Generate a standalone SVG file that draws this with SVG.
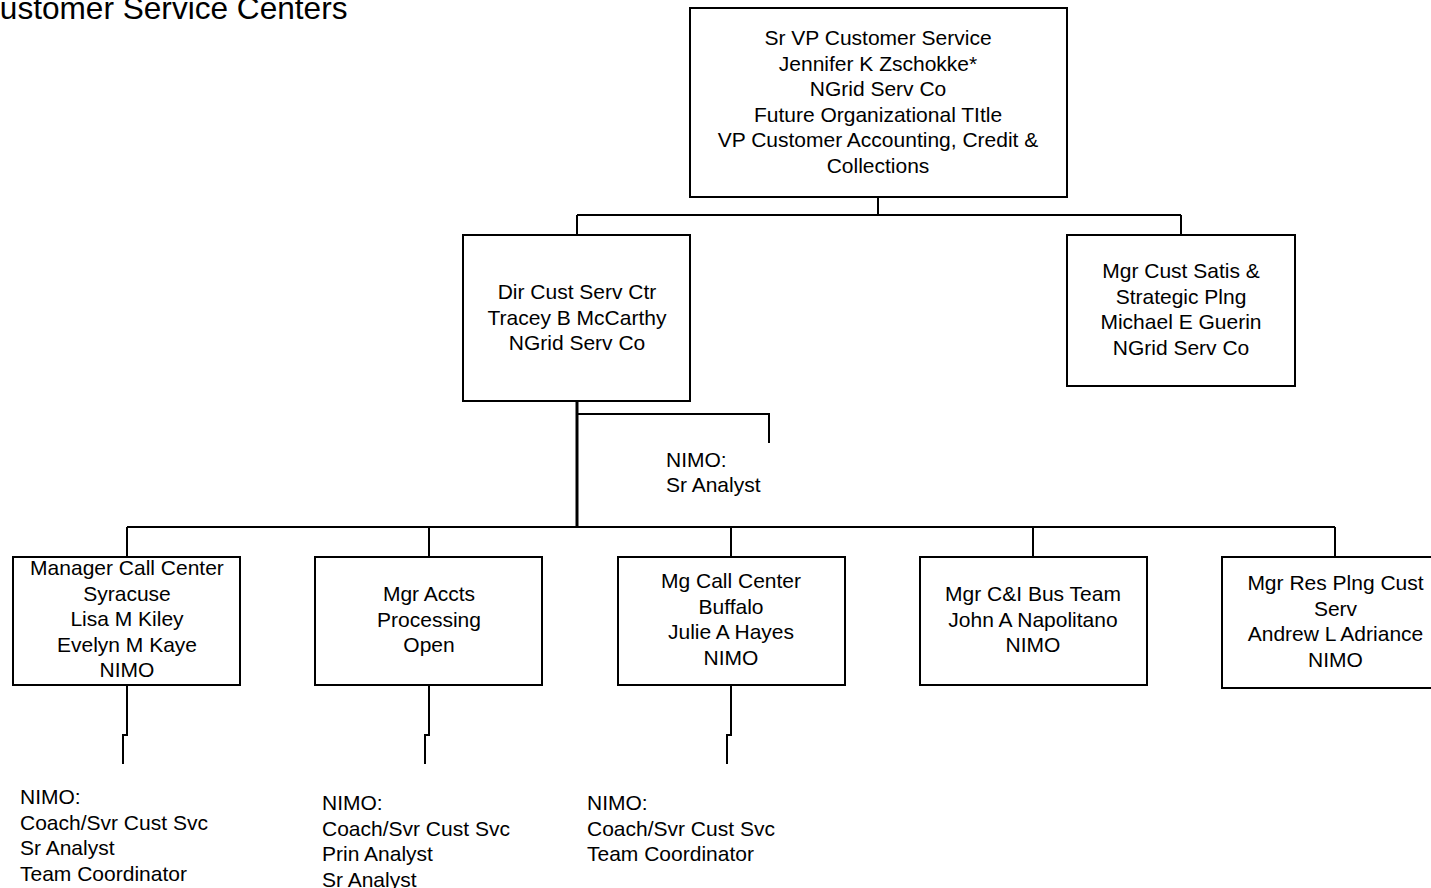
<svg xmlns="http://www.w3.org/2000/svg" width="1431" height="888" viewBox="0 0 1431 888">
<style>
.box{fill:#fff;stroke:#000;stroke-width:2}
.t{font-family:"Liberation Sans",Arial,sans-serif;font-size:21px;fill:#000;text-anchor:middle}
.l{font-family:"Liberation Sans",Arial,sans-serif;font-size:21px;fill:#000}
.c{fill:none;stroke:#000;stroke-width:2}
</style>
<rect width="1431" height="888" fill="#fff"/>
<text id="title" x="-23" y="19" style="font-family:'Liberation Sans',Arial,sans-serif;font-size:31.6px">Customer Service Centers</text>
<g id="connectors">
<path class="c" d="M878 197V215M577 215H1181M577 215V235M1181 215V235"/>
<path class="c" style="stroke-width:3" d="M577 401V527"/>
<path class="c" d="M577 414H769V443"/>
<path class="c" d="M127 527H1335M127 527V557M429 527V557M731 527V557M1033 527V557M1335 527V557"/>
<path class="c" d="M127 685V735H123V764M429 685V735H425V764M731 685V735H727V764"/>
</g>
<g id="n-svp">
<rect class="box" x="690" y="8" width="377" height="189"/>
<text class="t"><tspan x="878" y="45">Sr VP Customer Service</tspan><tspan x="878" y="70.6">Jennifer K Zschokke*</tspan><tspan x="878" y="96.2">NGrid Serv Co</tspan><tspan x="878" y="121.8">Future Organizational TItle</tspan><tspan x="878" y="147.4">VP Customer Accounting, Credit &amp;</tspan><tspan x="878" y="173">Collections</tspan></text>
</g>
<g id="n-dir">
<rect class="box" x="463" y="235" width="227" height="166"/>
<text class="t"><tspan x="577" y="299">Dir Cust Serv Ctr</tspan><tspan x="577" y="324.6">Tracey B McCarthy</tspan><tspan x="577" y="350.2">NGrid Serv Co</tspan></text>
</g>
<g id="n-satis">
<rect class="box" x="1067" y="235" width="228" height="151"/>
<text class="t"><tspan x="1181" y="278">Mgr Cust Satis &amp;</tspan><tspan x="1181" y="303.6">Strategic Plng</tspan><tspan x="1181" y="329.2">Michael E Guerin</tspan><tspan x="1181" y="354.8">NGrid Serv Co</tspan></text>
</g>
<g id="n-sra">
<text class="l"><tspan x="666" y="467">NIMO:</tspan><tspan x="666" y="492">Sr Analyst</tspan></text>
</g>
<g id="n-syr">
<rect class="box" x="13" y="557" width="227" height="128"/>
<text class="t"><tspan x="127" y="575">Manager Call Center</tspan><tspan x="127" y="600.6">Syracuse</tspan><tspan x="127" y="626.2">Lisa M Kiley</tspan><tspan x="127" y="651.8">Evelyn M Kaye</tspan><tspan x="127" y="677.4">NIMO</tspan></text>
</g>
<g id="n-accts">
<rect class="box" x="315" y="557" width="227" height="128"/>
<text class="t"><tspan x="429" y="601">Mgr Accts</tspan><tspan x="429" y="626.6">Processing</tspan><tspan x="429" y="652.2">Open</tspan></text>
</g>
<g id="n-buf">
<rect class="box" x="618" y="557" width="227" height="128"/>
<text class="t"><tspan x="731" y="588">Mg Call Center</tspan><tspan x="731" y="613.6">Buffalo</tspan><tspan x="731" y="639.2">Julie A Hayes</tspan><tspan x="731" y="664.8">NIMO</tspan></text>
</g>
<g id="n-ci">
<rect class="box" x="920" y="557" width="227" height="128"/>
<text class="t"><tspan x="1033" y="601">Mgr C&amp;I Bus Team</tspan><tspan x="1033" y="626.6">John A Napolitano</tspan><tspan x="1033" y="652.2">NIMO</tspan></text>
</g>
<g id="n-res">
<rect class="box" x="1222" y="557" width="227" height="131"/>
<text class="t"><tspan x="1335.5" y="590">Mgr Res Plng Cust</tspan><tspan x="1335.5" y="615.6">Serv</tspan><tspan x="1335.5" y="641.2">Andrew L Adriance</tspan><tspan x="1335.5" y="666.8">NIMO</tspan></text>
</g>
<g id="n-sub1">
<text class="l"><tspan x="20" y="804">NIMO:</tspan><tspan x="20" y="829.6">Coach/Svr Cust Svc</tspan><tspan x="20" y="855.2">Sr Analyst</tspan><tspan x="20" y="880.8">Team Coordinator</tspan></text>
</g>
<g id="n-sub2">
<text class="l"><tspan x="322" y="810">NIMO:</tspan><tspan x="322" y="835.6">Coach/Svr Cust Svc</tspan><tspan x="322" y="861.2">Prin Analyst</tspan><tspan x="322" y="886.8">Sr Analyst</tspan></text>
</g>
<g id="n-sub3">
<text class="l"><tspan x="587" y="810">NIMO:</tspan><tspan x="587" y="835.6">Coach/Svr Cust Svc</tspan><tspan x="587" y="861.2">Team Coordinator</tspan></text>
</g>
</svg>
